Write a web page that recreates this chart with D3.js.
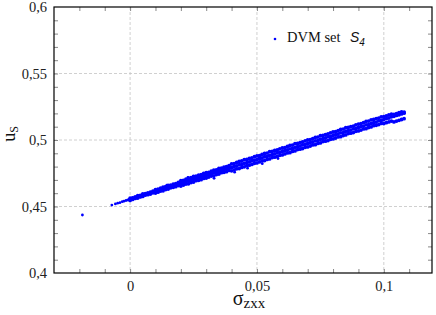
<!DOCTYPE html>
<html>
<head>
<meta charset="utf-8">
<script src="https://cdn.jsdelivr.net/npm/d3@7"></script>
<style>
  body { margin: 0; background: #fff; }
</style>
</head>
<body>
<svg id="chart" width="436" height="315"></svg>
<script>
// sigma_zxx sample positions of the dense band
const sigmaZxx = [
  0.000,0.001,0.002,0.003,0.004,0.005,0.006,0.007,0.008,0.009,
  0.010,0.011,0.012,0.013,0.014,0.015,0.016,0.017,0.018,0.019,
  0.020,0.021,0.022,0.023,0.024,0.025,0.026,0.027,0.028,0.029,
  0.030,0.031,0.032,0.033,0.034,0.035,0.036,0.037,0.038,0.039,
  0.040,0.041,0.042,0.043,0.044,0.045,0.046,0.047,0.048,0.049,
  0.050,0.051,0.052,0.053,0.054,0.055,0.056,0.057,0.058,0.059,
  0.060,0.061,0.062,0.063,0.064,0.065,0.066,0.067,0.068,0.069,
  0.070,0.071,0.072,0.073,0.074,0.075,0.076,0.077,0.078,0.079,
  0.080,0.081,0.082,0.083,0.084,0.085,0.086,0.087,0.088,0.089,
  0.090,0.091,0.092,0.093,0.094,0.095,0.096,0.097,0.098,0.099,
  0.100,0.101,0.102,0.103,0.104,0.105,0.106,0.107,0.108
];
// upper edge, middle and lower edge of the band (u_S)
const uTop = [
  0.4562,0.4565,0.4573,0.4581,0.4584,0.4594,0.4596,0.4603,0.4607,0.4616,
  0.4627,0.4630,0.4638,0.4646,0.4649,0.4659,0.4661,0.4668,0.4672,0.4681,
  0.4694,0.4697,0.4705,0.4713,0.4716,0.4726,0.4728,0.4735,0.4739,0.4748,
  0.4754,0.4757,0.4765,0.4773,0.4776,0.4786,0.4788,0.4795,0.4799,0.4808,
  0.4820,0.4823,0.4831,0.4839,0.4842,0.4852,0.4854,0.4861,0.4865,0.4874,
  0.4880,0.4883,0.4891,0.4899,0.4902,0.4912,0.4914,0.4921,0.4925,0.4934,
  0.4940,0.4943,0.4951,0.4959,0.4962,0.4972,0.4974,0.4981,0.4985,0.4994,
  0.5000,0.5003,0.5011,0.5019,0.5022,0.5032,0.5034,0.5041,0.5045,0.5054,
  0.5060,0.5063,0.5071,0.5079,0.5082,0.5092,0.5094,0.5101,0.5105,0.5114,
  0.5120,0.5123,0.5131,0.5139,0.5142,0.5152,0.5154,0.5161,0.5165,0.5174,
  0.5176,0.5182,0.5188,0.5194,0.5193,0.5199,0.5205,0.5211,0.5210
];
const uMid = [
  0.4554,0.4561,0.4565,0.4574,0.4576,0.4585,0.4590,0.4595,0.4604,0.4607,
  0.4614,0.4621,0.4625,0.4634,0.4636,0.4645,0.4650,0.4655,0.4664,0.4667,
  0.4674,0.4681,0.4685,0.4694,0.4696,0.4705,0.4710,0.4715,0.4724,0.4727,
  0.4734,0.4741,0.4745,0.4754,0.4756,0.4765,0.4770,0.4775,0.4784,0.4787,
  0.4794,0.4801,0.4805,0.4814,0.4816,0.4825,0.4830,0.4835,0.4844,0.4847,
  0.4854,0.4861,0.4865,0.4874,0.4876,0.4885,0.4890,0.4895,0.4904,0.4907,
  0.4914,0.4921,0.4925,0.4934,0.4936,0.4945,0.4950,0.4955,0.4964,0.4967,
  0.4974,0.4981,0.4985,0.4994,0.4996,0.5005,0.5010,0.5015,0.5024,0.5027,
  0.5034,0.5041,0.5045,0.5054,0.5056,0.5065,0.5070,0.5075,0.5084,0.5087,
  0.5094,0.5101,0.5105,0.5114,0.5116,0.5125,0.5130,0.5135,0.5144,0.5147,
  0.5154,0.5161,0.5165,0.5174,0.5178,0.5185,0.5190,0.5196,0.5202
];
const uLow = [
  0.4546,0.4553,0.4561,0.4563,0.4572,0.4576,0.4586,0.4589,0.4594,0.4603,
  0.4601,0.4608,0.4616,0.4618,0.4627,0.4631,0.4641,0.4644,0.4649,0.4658,
  0.4654,0.4661,0.4669,0.4671,0.4680,0.4684,0.4694,0.4697,0.4702,0.4711,
  0.4714,0.4721,0.4729,0.4731,0.4740,0.4744,0.4754,0.4757,0.4762,0.4771,
  0.4768,0.4775,0.4783,0.4785,0.4794,0.4798,0.4808,0.4811,0.4816,0.4825,
  0.4828,0.4835,0.4843,0.4845,0.4854,0.4858,0.4868,0.4871,0.4876,0.4885,
  0.4888,0.4895,0.4903,0.4905,0.4914,0.4918,0.4928,0.4931,0.4936,0.4945,
  0.4948,0.4955,0.4963,0.4965,0.4974,0.4978,0.4988,0.4991,0.4996,0.5005,
  0.5008,0.5015,0.5023,0.5025,0.5034,0.5038,0.5048,0.5051,0.5056,0.5065,
  0.5068,0.5075,0.5083,0.5085,0.5094,0.5098,0.5108,0.5111,0.5116,0.5125,
  0.5124,0.5130,0.5136,0.5142,0.5136,0.5142,0.5148,0.5154,0.5160
];
// sparse points: outlier, thin start of the band, stray points
const edgeSigma = [-0.0188,-0.0072,-0.0058,-0.0049,-0.0040,-0.0031,-0.0024,-0.0016,-0.0009,-0.0003,
  0.0145,0.0228,0.0331,0.0412,0.0463,0.0521,0.0583];
const edgeU = [0.4436,0.4511,0.4519,0.4525,0.4529,0.4536,0.4540,0.4545,0.4549,0.4552,
  0.4660,0.4718,0.4712,0.4758,0.4788,0.4822,0.4860];

const xMajor = [0, 0.05, 0.1];
const xMinor = [-0.02,-0.01,0,0.01,0.02,0.03,0.04,0.05,0.06,0.07,0.08,0.09,0.1,0.11];
const yMajor = [0.4, 0.45, 0.5, 0.55, 0.6];
const yMinor = [0.41,0.42,0.43,0.44,0.45,0.46,0.47,0.48,0.49,0.5,0.51,0.52,0.53,0.54,0.55,0.56,0.57,0.58,0.59];
const yGrid = [0.45, 0.5, 0.55];

const serif = "'Liberation Serif', 'Times New Roman', serif";

const svg = d3.select("#chart");
const margin = { top: 7, right: 4, bottom: 42, left: 54 };
const width = 436 - margin.left - margin.right;
const height = 315 - margin.top - margin.bottom;

const chart = svg.append("g")
    .attr("transform", `translate(${margin.left},${margin.top})`);

const x = d3.scaleLinear().domain([-0.03, 0.119]).range([0, width]);
const y = d3.scaleLinear().domain([0.4, 0.6]).range([height, 0]);

const fmt = v => d3.format("~g")(v).replace(".", ",");

// grid
chart.selectAll(".gx").data(xMajor).enter().append("line")
    .attr("x1", d => x(d)).attr("x2", d => x(d))
    .attr("y1", 0).attr("y2", height)
    .attr("stroke", "#c4c4c4").attr("stroke-width", 0.8)
    .attr("stroke-dasharray", "3,2");
chart.selectAll(".gy").data(yGrid).enter().append("line")
    .attr("x1", 0).attr("x2", width)
    .attr("y1", d => y(d)).attr("y2", d => y(d))
    .attr("stroke", "#c4c4c4").attr("stroke-width", 0.8)
    .attr("stroke-dasharray", "3,2");

// axes: ticks point inward on all four sides
const tickLen = 4;
chart.append("g").attr("transform", `translate(0,${height})`)
    .call(d3.axisBottom(x).tickValues(xMinor).tickSize(-tickLen).tickFormat(""));
chart.append("g")
    .call(d3.axisTop(x).tickValues(xMinor).tickSize(-tickLen).tickFormat(""));
chart.append("g")
    .call(d3.axisLeft(y).tickValues(yMinor).tickSize(-tickLen).tickFormat(""));
chart.append("g").attr("transform", `translate(${width},0)`)
    .call(d3.axisRight(y).tickValues(yMinor).tickSize(-tickLen).tickFormat(""));
chart.selectAll(".tick line").attr("stroke", "#888");
chart.selectAll(".domain").remove();

// tick labels
chart.append("g").attr("transform", `translate(0,${height})`)
    .call(d3.axisBottom(x).tickValues(xMajor).tickSize(0).tickPadding(8).tickFormat(fmt))
    .call(g => g.select(".domain").remove())
    .selectAll("text")
    .style("font-family", serif).style("font-size", "14.5px").attr("fill", "#222");
chart.append("g")
    .call(d3.axisLeft(y).tickValues(yMajor).tickSize(0).tickPadding(7).tickFormat(fmt))
    .call(g => g.select(".domain").remove())
    .selectAll("text")
    .style("font-family", serif).style("font-size", "14.5px").attr("fill", "#222");

// data points
const band = [];
sigmaZxx.forEach((s, i) => {
    band.push([s, uTop[i]], [s, uMid[i]], [s, uLow[i]]);
});
const sparse = edgeSigma.map((s, i) => [s, edgeU[i]]);

chart.selectAll(".pt").data(band).enter().append("circle")
    .attr("class", "pt")
    .attr("cx", d => x(d[0]))
    .attr("cy", d => y(d[1]))
    .attr("r", 1.9)
    .attr("fill", "#0000ff");
chart.selectAll(".sp").data(sparse).enter().append("circle")
    .attr("class", "sp")
    .attr("cx", d => x(d[0]))
    .attr("cy", d => y(d[1]))
    .attr("r", 1.4)
    .attr("fill", "#0000ff");

// frame
chart.append("rect")
    .attr("width", width).attr("height", height)
    .attr("fill", "none").attr("stroke", "#000").attr("stroke-width", 1.2);

// legend
const legend = chart.append("g").attr("transform", `translate(${275 - margin.left},${39 - margin.top})`);
legend.append("circle").attr("r", 1.3).attr("fill", "#0000ff");
legend.append("text").attr("x", 12).attr("y", 3)
    .style("font-family", serif).style("font-size", "14.5px").attr("fill", "#111").text("DVM set");
const sLab = legend.append("text").attr("x", 75).attr("y", 3)
    .style("font-family", "'Liberation Sans', Arial, sans-serif").style("font-style", "italic")
    .style("font-size", "14px").attr("fill", "#111");
sLab.append("tspan").text("S");
sLab.append("tspan").attr("dy", 4).style("font-size", "10px").text("4");

// axis titles
const xt = svg.append("text")
    .attr("x", 249).attr("y", 305)
    .attr("text-anchor", "middle").attr("fill", "#111")
    .style("font-family", serif);
xt.append("tspan").style("font-size", "20px").text("σ");
xt.append("tspan").style("font-size", "15px").attr("dy", 3).text("zxx");

const yt = svg.append("text")
    .attr("transform", "translate(15,134) rotate(-90)")
    .attr("text-anchor", "middle").attr("fill", "#111")
    .style("font-family", serif);
yt.append("tspan").style("font-size", "18px").text("u");
yt.append("tspan").style("font-size", "12px").attr("dy", 3).text("S");
</script>
</body>
</html>
